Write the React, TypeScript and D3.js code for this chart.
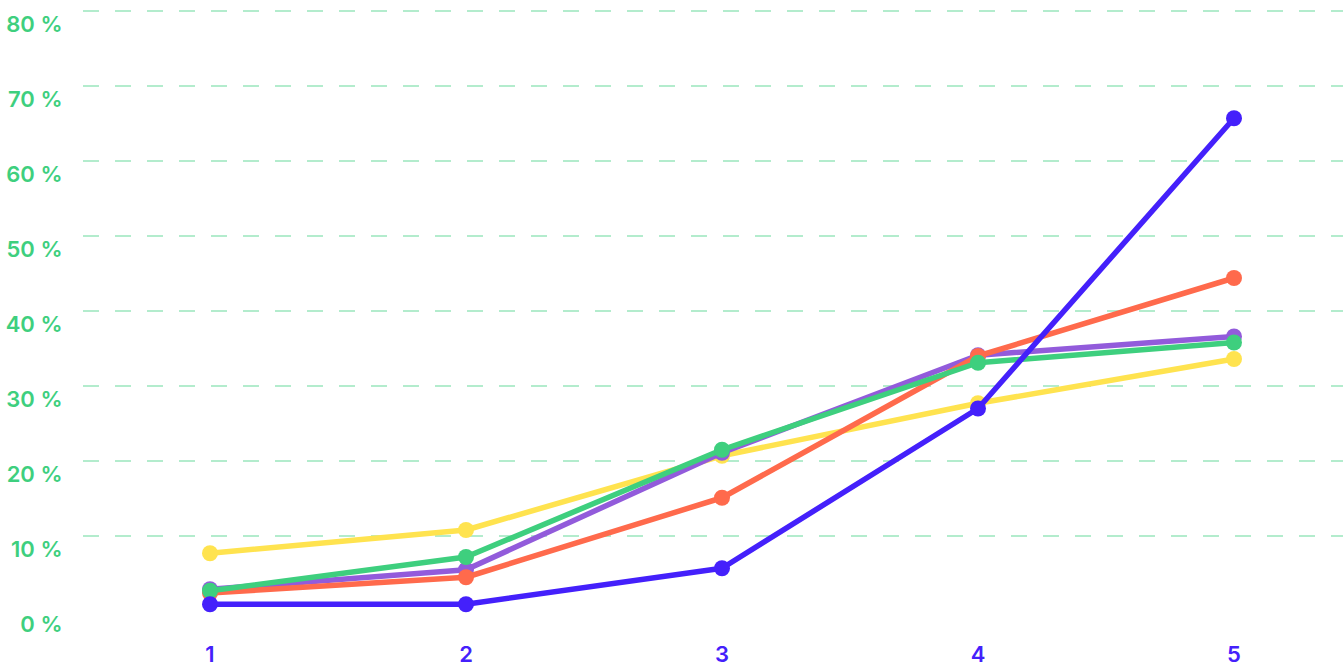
import React from "react";
import * as d3 from "d3";

const categories = ["1", "2", "3", "4", "5"];
const yTicks = [0, 10, 20, 30, 40, 50, 60, 70, 80];
const seriesNames = ["yellow", "purple", "orange", "green", "blue"];
const yellowValues = [7.7, 10.8, 20.7, 27.7, 33.6];
const purpleValues = [2.9, 5.5, 21.1, 34.1, 36.6];
const orangeValues = [2.4, 4.5, 15.1, 34.0, 44.4];
const greenValues = [2.7, 7.2, 21.5, 33.1, 35.8];
const blueValues = [0.9, 0.9, 5.7, 27.0, 65.7];

const seriesValues = [yellowValues, purpleValues, orangeValues, greenValues, blueValues];
const seriesColors = ["#ffe34f", "#925bdb", "#ff6a4c", "#3ecf7e", "#4420fb"];

export default function App() {
  const W = 1343;
  const H = 664;
  const x = d3.scalePoint<string>().domain(categories).range([210, 1234]);
  const y = d3.scaleLinear().domain([0, 80]).range([611, 11]);
  const line = d3
    .line<number>()
    .x((_, i) => x(categories[i]) as number)
    .y((d) => y(d));

  return (
    <svg
      width={W}
      height={H}
      style={{ position: "absolute", left: 0, top: 0, display: "block" }}
      fontFamily="Inter, 'Noto Sans', sans-serif"
    >
      <rect width={W} height={H} fill="#ffffff" />
      {yTicks.map((t) => (
        <g key={t}>
          {t > 0 && (
            <line
              x1={83}
              x2={W}
              y1={y(t)}
              y2={y(t)}
              stroke="#9be6bd"
              strokeWidth={1.5}
              strokeDasharray="16,16"
            />
          )}
          <text
            x={62.5}
            y={y(t) + 20.5}
            textAnchor="end"
            fill="#3ecf7e"
            fontSize={22}
            fontWeight={600}
          >
            {`${t} %`}
          </text>
        </g>
      ))}
      {categories.map((c) => (
        <text
          key={c}
          x={x(c) as number}
          y={662}
          textAnchor="middle"
          fill="#4420fb"
          fontSize={22}
          fontWeight={600}
        >
          {c}
        </text>
      ))}
      {seriesValues.map((vals, si) => (
        <g key={seriesNames[si]}>
          <path
            d={line(vals) || ""}
            fill="none"
            stroke={seriesColors[si]}
            strokeWidth={5.5}
            strokeLinejoin="round"
          />
          {vals.map((v, i) => (
            <circle
              key={i}
              cx={x(categories[i]) as number}
              cy={y(v)}
              r={8}
              fill={seriesColors[si]}
            />
          ))}
        </g>
      ))}
    </svg>
  );
}
